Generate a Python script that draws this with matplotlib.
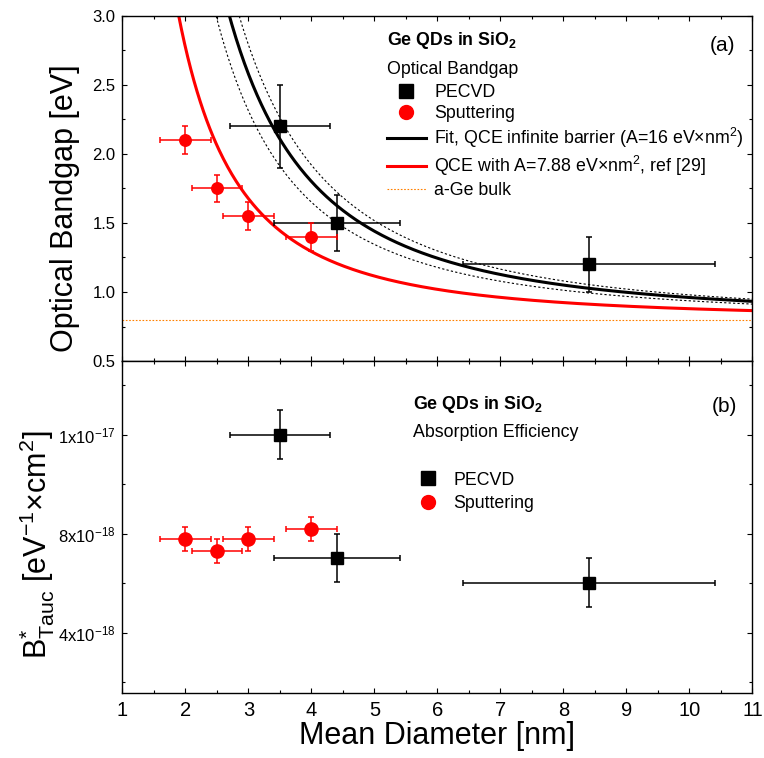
import numpy as np
import matplotlib
matplotlib.use("Agg")
import matplotlib.pyplot as plt
from matplotlib.lines import Line2D
from matplotlib.ticker import MultipleLocator, FixedLocator, FixedFormatter

plt.rcParams['font.family'] = ['Liberation Sans', 'DejaVu Sans']
plt.rcParams['mathtext.default'] = 'regular'

# panel (a): optical bandgap
pecvd_d = [3.5, 4.4, 8.4]
pecvd_d_err = [0.8, 1.0, 2.0]
pecvd_eg = [2.2, 1.5, 1.2]
pecvd_eg_err = [0.3, 0.2, 0.2]

sput_d = [2.0, 2.5, 3.0, 4.0]
sput_d_err = [0.4, 0.4, 0.4, 0.4]
sput_eg = [2.1, 1.75, 1.55, 1.4]
sput_eg_err = [0.1, 0.1, 0.1, 0.1]

# QCE model E = Eg_bulk + A / d^2
eg_bulk = 0.8
a_fit = 16.0
a_fit_lo, a_fit_hi = 13.6, 17.9   # confidence band
a_ref = 7.88

# panel (b): absorption efficiency
pecvd_b = [10.0e-18, 6.27e-18, 5.52e-18]
pecvd_b_err = [0.74e-18, 0.74e-18, 0.74e-18]
sput_b = [6.85e-18, 6.49e-18, 6.85e-18, 7.15e-18]
sput_b_err = [0.37e-18, 0.37e-18, 0.37e-18, 0.37e-18]

b_ticks = [4e-18, 7e-18, 1e-17]
b_ticklabels = ['4x10$^{-18}$', '8x10$^{-18}$', '1x10$^{-17}$']
b_minor = [2.5e-18, 5.5e-18, 8.5e-18, 11.5e-18]

fig = plt.figure(figsize=(7.64, 7.58), dpi=100)
ax1 = fig.add_axes([0.1603, 0.5237, 0.8246, 0.4555])
ax2 = fig.add_axes([0.1603, 0.0858, 0.8246, 0.438])

d = np.linspace(1.0, 11.0, 600)
ax1.plot(d, eg_bulk + a_fit_lo / d**2, color='black', lw=0.8, ls=(0, (2, 2)))
ax1.plot(d, eg_bulk + a_fit_hi / d**2, color='black', lw=0.8, ls=(0, (2, 2)))
ax1.plot(d, eg_bulk + a_fit / d**2, color='black', lw=2.2)
ax1.plot(d, eg_bulk + a_ref / d**2, color='red', lw=2.2)
ax1.axhline(eg_bulk, color='#FF8000', lw=0.8, ls=(0, (1.5, 1.5)))

ax1.errorbar(pecvd_d, pecvd_eg, xerr=pecvd_d_err, yerr=pecvd_eg_err, fmt='s',
             color='black', ms=8.6, capsize=2.5, elinewidth=1.1, capthick=1.1, zorder=5)
ax1.errorbar(sput_d, sput_eg, xerr=sput_d_err, yerr=sput_eg_err, fmt='o',
             color='red', ms=8.3, capsize=2.5, elinewidth=1.1, capthick=1.1, zorder=5)

ax2.errorbar(pecvd_d, pecvd_b, xerr=pecvd_d_err, yerr=pecvd_b_err, fmt='s',
             color='black', ms=8.6, capsize=2.5, elinewidth=1.1, capthick=1.1, zorder=5)
ax2.errorbar(sput_d, sput_b, xerr=sput_d_err, yerr=sput_b_err, fmt='o',
             color='red', ms=9.5, capsize=2.5, elinewidth=1.1, capthick=1.1, zorder=5)

for ax in (ax1, ax2):
    ax.set_xlim(1, 11)
    ax.xaxis.set_major_locator(MultipleLocator(1))
    ax.xaxis.set_minor_locator(MultipleLocator(0.5))
    ax.tick_params(which='both', direction='in', top=True, right=True, width=0.8)
    ax.tick_params(which='major', length=3.6)
    ax.tick_params(which='minor', length=2.2)
    ax.tick_params(axis='y', labelsize=12, pad=5)
    for s in ax.spines.values():
        s.set_linewidth(1.0)

ax1.set_ylim(0.5, 3.0)
ax1.yaxis.set_major_locator(MultipleLocator(0.5))
ax1.yaxis.set_minor_locator(MultipleLocator(0.25))
ax1.yaxis.set_major_formatter(plt.FormatStrFormatter('%.1f'))
ax1.tick_params(axis='x', labelbottom=False)
ax1.set_ylabel('Optical Bandgap [eV]', fontsize=22)
ax1.yaxis.set_label_coords(-0.0675, 0.4417)

ax2.set_ylim(2.18e-18, 12.24e-18)
ax2.yaxis.set_major_locator(FixedLocator(b_ticks))
ax2.yaxis.set_major_formatter(FixedFormatter(b_ticklabels))
ax2.yaxis.set_minor_locator(FixedLocator(b_minor))
ax2.tick_params(axis='x', labelsize=14.5, pad=5.5)
ax2.set_xlabel('Mean Diameter [nm]', fontsize=22)
ax2.xaxis.set_label_coords(0.5, -0.085)
ax2.set_ylabel('B$^{*}_{Tauc}$ [eV$^{-1}$×cm$^{2}$]', fontsize=22)
ax2.yaxis.set_label_coords(-0.104, 0.446)

# legend / annotation block of panel (a)
fs = 12.8
ax1.text(0.4198, 0.9297, 'Ge QDs in SiO$_2$', transform=ax1.transAxes,
         fontsize=fs, fontweight='bold', va='center')
ax1.text(0.4198, 0.845, 'Optical Bandgap', transform=ax1.transAxes,
         fontsize=fs, va='center')
ax1.text(0.953, 0.915, '(a)', transform=ax1.transAxes, fontsize=15,
         ha='center', va='center')
h1 = [Line2D([], [], ls='none', marker='s', color='black', ms=10),
      Line2D([], [], ls='none', marker='o', color='red', ms=10),
      Line2D([], [], color='black', lw=2.2),
      Line2D([], [], color='red', lw=2.2),
      Line2D([], [], color='#FF8000', lw=0.8, ls=(0, (1.5, 1.5)))]
l1 = ['PECVD', 'Sputtering',
      'Fit, QCE infinite barrier (A=16 eV×nm$^2$)',
      'QCE with A=7.88 eV×nm$^2$, ref [29]',
      'a-Ge bulk']
ax1.legend(h1, l1, loc='upper left', bbox_to_anchor=(0.4198, 0.802),
           frameon=False, fontsize=fs, borderpad=0, borderaxespad=0,
           handlelength=2.2, handletextpad=0.45, labelspacing=0.22)

# legend / annotation block of panel (b)
ax2.text(0.461, 0.8675, 'Ge QDs in SiO$_2$', transform=ax2.transAxes,
         fontsize=fs, fontweight='bold', va='center')
ax2.text(0.461, 0.784, 'Absorption Efficiency', transform=ax2.transAxes,
         fontsize=fs, va='center')
ax2.text(0.956, 0.864, '(b)', transform=ax2.transAxes, fontsize=15,
         ha='center', va='center')
h2 = [Line2D([], [], ls='none', marker='s', color='black', ms=10),
      Line2D([], [], ls='none', marker='o', color='red', ms=10)]
ax2.legend(h2, ['PECVD', 'Sputtering'], loc='upper left',
           bbox_to_anchor=(0.4714, 0.667), frameon=False, fontsize=fs,
           borderpad=0, borderaxespad=0, handlelength=1.0,
           handletextpad=0.9, labelspacing=0.35)

fig.savefig('out.png', dpi=100)
